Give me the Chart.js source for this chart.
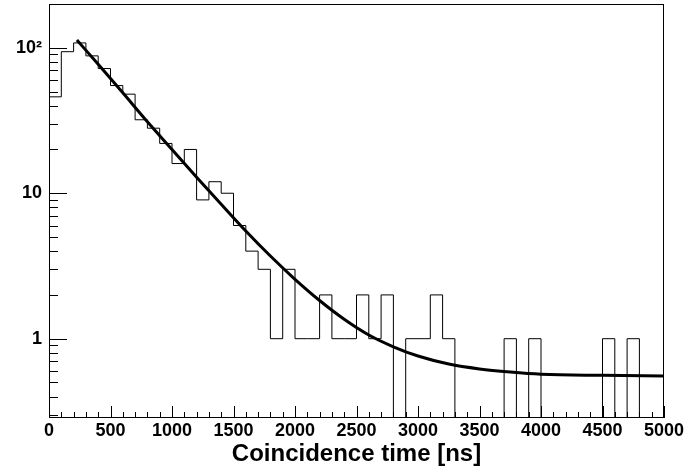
<!DOCTYPE html>
<html>
<head>
<meta charset="UTF-8">
<title>Coincidence time</title>
<script src="https://cdn.jsdelivr.net/npm/chart.js"></script>
<style>
  html, body { margin: 0; padding: 0; background: #fff; }
  #wrap { width: 687px; height: 469px; }
</style>
</head>
<body>
<div id="wrap"><canvas id="coincChart"></canvas></div>
<script>
// bin edges of the histogram (100 ns bins)
const binEdges = [0, 100, 200, 300, 400, 500, 600, 700, 800, 900,
  1000, 1100, 1200, 1300, 1400, 1500, 1600, 1700, 1800, 1900,
  2000, 2100, 2200, 2300, 2400, 2500, 2600, 2700, 2800, 2900,
  3000, 3100, 3200, 3300, 3400, 3500, 3600, 3700, 3800, 3900,
  4000, 4100, 4200, 4300, 4400, 4500, 4600, 4700, 4800, 4900, 5000];
// counts per bin
const counts = [46, 94, 108, 88, 72, 55, 48, 32, 28, 22,
  16, 20, 9, 12, 10, 6, 4, 3, 1, 3,
  1, 1, 2, 1, 1, 2, 1, 2, 0, 1,
  1, 2, 1, 0, 0, 0, 0, 1, 0, 1,
  0, 0, 0, 0, 0, 1, 0, 1, 0, 0];
// fit curve
const fitX = [227, 400, 600, 800, 1000, 1200, 1400, 1600, 1800, 2000, 2200,
  2400, 2600, 2800, 3000, 3250, 3500, 3750, 4000, 4500, 5000];
const fitY = [113, 77, 49, 31, 20, 12.9, 8.4, 5.5, 3.7, 2.56, 1.83,
  1.36, 1.06, 0.88, 0.76, 0.67, 0.62, 0.59, 0.57, 0.56, 0.555];
// axis ticks
const xTicks = [0, 500, 1000, 1500, 2000, 2500, 3000, 3500, 4000, 4500, 5000];
const yTicks = [1, 10, 100];
const yTickLabels = ['1', '10', '10²'];

const FONT = "'Liberation Sans', Arial, Helvetica, sans-serif";
const FLOOR = 0.1; // empty bins drop below the axis and get clipped

// step outline: each edge carries the count of the bin to its right
const histPoints = binEdges.map((x, i) => {
  const c = counts[Math.min(i, counts.length - 1)];
  return { x: x, y: c > 0 ? c : FLOOR };
});
const fitPoints = fitX.map((x, i) => ({ x: x, y: fitY[i] }));

// ROOT style frame with ticks drawn inside
const rootFrame = {
  id: 'rootFrame',
  afterDraw(chart) {
    const { ctx, chartArea: a, scales: { x, y } } = chart;
    ctx.save();
    ctx.strokeStyle = '#000';
    ctx.lineWidth = 1;
    ctx.beginPath();
    for (let v = x.min; v <= x.max; v += 100) {
      const px = Math.round(x.getPixelForValue(v)) + 0.5;
      const len = v % 500 === 0 ? 12 : 6;
      ctx.moveTo(px, a.bottom);
      ctx.lineTo(px, a.bottom - len);
    }
    for (let e = -1; e <= 2; e++) {
      for (let m = 1; m <= 9; m++) {
        const v = m * Math.pow(10, e);
        if (v < y.min || v > y.max) continue;
        const py = Math.round(y.getPixelForValue(v)) + 0.5;
        const len = m === 1 ? 18 : 9;
        ctx.moveTo(a.left, py);
        ctx.lineTo(a.left + len, py);
      }
    }
    ctx.stroke();
    ctx.strokeRect(Math.round(a.left) + 0.5, Math.round(a.top) + 0.5,
      Math.round(a.right - a.left) - 1, Math.round(a.bottom - a.top) - 1);
    ctx.restore();
  }
};

const ctx = document.getElementById('coincChart').getContext('2d');
new Chart(ctx, {
  type: 'line',
  data: {
    datasets: [{
      label: 'fit',
      data: fitPoints,
      borderColor: '#000',
      borderWidth: 3,
      pointRadius: 0,
      cubicInterpolationMode: 'monotone',
      fill: false
    }, {
      label: 'counts',
      data: histPoints,
      borderColor: '#000',
      borderWidth: 1,
      pointRadius: 0,
      stepped: 'before',
      fill: false
    }]
  },
  plugins: [rootFrame],
  options: {
    responsive: true,
    maintainAspectRatio: false,
    animation: false,
    devicePixelRatio: 1,
    layout: { padding: { left: 0, top: 4, right: 23, bottom: 0 } },
    plugins: {
      legend: { display: false },
      tooltip: { enabled: false }
    },
    scales: {
      x: {
        type: 'linear',
        min: 0,
        max: 5000,
        afterFit: s => { s.height = 51; s.paddingLeft = 0; s.paddingRight = 0; },
        afterBuildTicks: s => { s.ticks = xTicks.map(v => ({ value: v })); },
        grid: { display: false, drawTicks: false },
        border: { display: false },
        ticks: {
          padding: 2,
          color: '#000',
          maxRotation: 0,
          autoSkip: false,
          font: { family: FONT, size: 18, weight: 'bold' },
          callback: v => String(v)
        },
        title: {
          display: true,
          text: 'Coincidence time [ns]',
          color: '#000',
          padding: { top: 0, bottom: 3 },
          font: { family: FONT, size: 24, weight: 'bold', lineHeight: 1 }
        }
      },
      y: {
        type: 'logarithmic',
        min: 0.285,
        max: 200,
        afterFit: s => { s.width = 49; s.paddingTop = 0; s.paddingBottom = 0; },
        afterBuildTicks: s => { s.ticks = yTicks.map(v => ({ value: v })); },
        grid: { display: false, drawTicks: false },
        border: { display: false },
        ticks: {
          padding: 7,
          color: '#000',
          autoSkip: false,
          font: { family: FONT, size: 18, weight: 'bold' },
          callback: (v, i) => yTickLabels[i]
        }
      }
    }
  }
});
</script>
</body>
</html>
